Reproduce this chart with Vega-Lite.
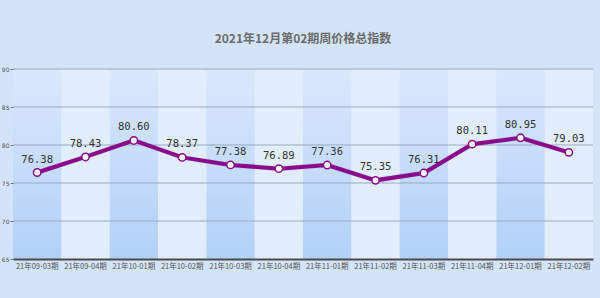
{
  "$schema": "https://vega.github.io/schema/vega-lite/v6.json",
  "width": 580,
  "height": 190,
  "autosize": "none",
  "padding": {"left": 13, "top": 69, "right": 7, "bottom": 39},
  "background": "#d3e3f9",
  "config": {
    "view": {"stroke": null},
    "axisY": {
      "title": null,
      "values": [65, 70, 75, 80, 85, 90],
      "tickCount": 6,
      "labelOverlap": false,
      "labelFont": "DejaVu Sans",
      "labelFontSize": 6,
      "labelColor": "#555555",
      "labelPadding": 1,
      "tickSize": 3,
      "tickColor": "#777777",
      "domain": false,
      "grid": false
    }
  },
  "title": {
    "text": "2021年12月第02期周价格总指数",
    "font": "Noto Sans CJK SC",
    "fontSize": 12,
    "fontWeight": "bold",
    "color": "#6b6b6b",
    "offset": 20,
    "anchor": "middle"
  },
  "datasets": {
    "index": [
      {"period": "21年09-03期", "value": 76.38},
      {"period": "21年09-04期", "value": 78.43},
      {"period": "21年10-01期", "value": 80.60},
      {"period": "21年10-02期", "value": 78.37},
      {"period": "21年10-03期", "value": 77.38},
      {"period": "21年10-04期", "value": 76.89},
      {"period": "21年11-01期", "value": 77.36},
      {"period": "21年11-02期", "value": 75.35},
      {"period": "21年11-03期", "value": 76.31},
      {"period": "21年11-04期", "value": 80.11},
      {"period": "21年12-01期", "value": 80.95},
      {"period": "21年12-02期", "value": 79.03}
    ],
    "grid": [
      {"level": 70}, {"level": 75}, {"level": 80}, {"level": 85}, {"level": 90}
    ]
  },
  "data": {"name": "index"},
  "transform": [{"window": [{"op": "row_number", "as": "idx"}]}],
  "encoding": {
    "x": {
      "field": "period",
      "type": "ordinal",
      "sort": null,
      "scale": {"paddingInner": 0, "paddingOuter": 0},
      "axis": {
        "title": null,
        "labelAngle": 0,
        "labelFont": "Noto Sans CJK SC",
        "labelFontSize": 7.5,
        "labelColor": "#555555",
        "labelPadding": 3,
        "labelOverlap": false,
        "ticks": false,
        "domain": true,
        "domainColor": "#4a4a4a",
        "domainWidth": 2,
        "grid": false,
        "zindex": 2
      }
    },
    "y": {
      "field": "value",
      "type": "quantitative",
      "scale": {"domain": [65, 90], "nice": false, "zero": false, "padding": 0},
      "axis": {"values": [65, 70, 75, 80, 85, 90], "zindex": 1, "labelOverlap": false}
    }
  },
  "layer": [
    {
      "mark": {
        "type": "rect",
        "fill": {
          "gradient": "linear",
          "x1": 0, "y1": 0, "x2": 0, "y2": 1,
          "stops": [
            {"offset": 0, "color": "#dae8fc"},
            {"offset": 1, "color": "#b2d0f8"}
          ]
        }
      },
      "encoding": {
        "y": {"datum": 90, "type": "quantitative"},
        "y2": {"datum": 65}
      }
    },
    {
      "transform": [{"filter": "datum.idx % 2 == 0"}],
      "mark": {"type": "rect", "fill": "#e1edfc"},
      "encoding": {
        "y": {"datum": 90, "type": "quantitative"},
        "y2": {"datum": 65}
      }
    },
    {
      "data": {"name": "grid"},
      "mark": {"type": "rule", "stroke": "#98a9c0", "strokeWidth": 1.2},
      "encoding": {
        "x": {"value": 0},
        "x2": {"value": 580},
        "y": {"field": "level", "type": "quantitative"}
      }
    },
    {
      "mark": {"type": "line", "stroke": "#7a7a7a", "strokeWidth": 5, "opacity": 0.25}
    },
    {
      "mark": {"type": "line", "stroke": "#8b0a8b", "strokeWidth": 4}
    },
    {
      "mark": {"type": "point", "filled": true, "fill": "#ffffff", "stroke": "#8b0a8b", "strokeWidth": 1.5, "size": 55, "opacity": 1}
    },
    {
      "mark": {"type": "text", "dy": -13, "font": "DejaVu Sans Mono", "fontSize": 10.5, "color": "#333333"},
      "encoding": {
        "text": {"field": "value", "type": "quantitative", "format": ".2f"}
      }
    }
  ]
}
